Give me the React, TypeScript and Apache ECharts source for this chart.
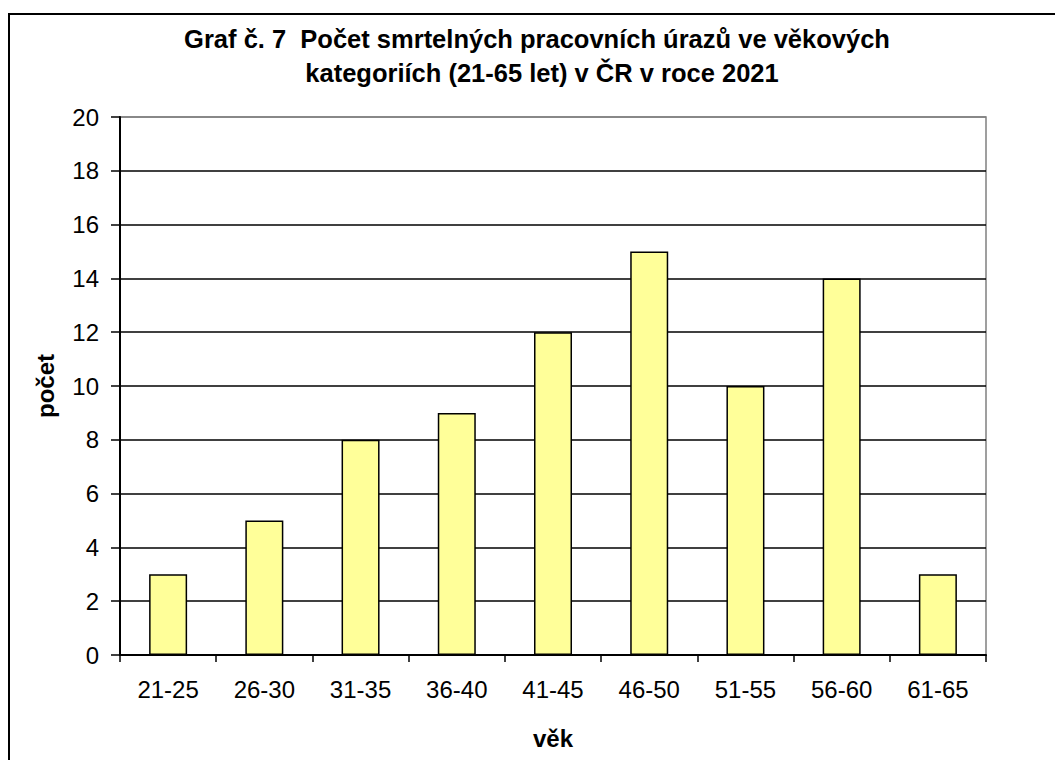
import React, { useEffect, useRef } from "react";
import * as echarts from "echarts";

const categories = ["21-25", "26-30", "31-35", "36-40", "41-45", "46-50", "51-55", "56-60", "61-65"];
const values = [3, 5, 8, 9, 12, 15, 10, 14, 3];
const titleLines = [
  "Graf č. 7  Počet smrtelných pracovních úrazů ve věkových",
  "kategoriích (21-65 let) v ČR v roce 2021",
];
const yAxisName = "počet";
const xAxisName = "věk";

const FONT = "'Liberation Sans', Arial, sans-serif";

export default function App() {
  const ref = useRef<HTMLDivElement>(null);
  useEffect(() => {
    if (!ref.current) return;
    const chart = echarts.init(ref.current, undefined, { renderer: "svg" });
    const splitColors = Array.from({ length: 11 }, (_, i) => (i === 10 ? "#808080" : "#000000"));
    chart.setOption({
      animation: false,
      backgroundColor: "#ffffff",
      textStyle: { fontFamily: FONT },
      graphic: [
        {
          type: "rect",
          shape: { x: 9, y: 14, width: 1200, height: 900 },
          style: { fill: "none", stroke: "#000", lineWidth: 2 },
          z: 100,
        },
        {
          type: "text",
          x: 537,
          y: 39,
          style: {
            text: titleLines[0],
            font: `bold 25.5px ${FONT}`,
            fill: "#000",
            textAlign: "center",
            textVerticalAlign: "middle",
          },
        },
        {
          type: "text",
          x: 542,
          y: 73,
          style: {
            text: titleLines[1],
            font: `bold 25.5px ${FONT}`,
            fill: "#000",
            textAlign: "center",
            textVerticalAlign: "middle",
          },
        },
      ],
      grid: {
        left: 120,
        right: 69,
        top: 117,
        bottom: 105,
        show: true,
        borderColor: "#808080",
        borderWidth: 1.5,
        backgroundColor: "#ffffff",
      },
      xAxis: {
        type: "category",
        data: categories,
        boundaryGap: true,
        name: xAxisName,
        nameLocation: "middle",
        nameGap: 71,
        nameTextStyle: { fontSize: 24, fontWeight: "bold", color: "#000", fontFamily: FONT },
        axisLine: { lineStyle: { color: "#000", width: 2 } },
        axisTick: { show: true, alignWithLabel: false, length: 7, lineStyle: { color: "#000", width: 1.5 } },
        axisLabel: { fontSize: 24, color: "#000", margin: 22, fontFamily: FONT },
      },
      yAxis: {
        type: "value",
        min: 0,
        max: 20,
        interval: 2,
        name: yAxisName,
        nameLocation: "middle",
        nameGap: 63,
        nameRotate: 90,
        nameTextStyle: { fontSize: 24, fontWeight: "bold", color: "#000", fontFamily: FONT },
        axisLine: { show: true, lineStyle: { color: "#000", width: 2 } },
        axisTick: { show: true, length: 9, lineStyle: { color: "#000", width: 1.5 } },
        axisLabel: { fontSize: 24, color: "#000", margin: 21, fontFamily: FONT },
        splitLine: { show: true, lineStyle: { color: splitColors, width: 1.5 } },
      },
      series: [
        {
          type: "bar",
          data: values,
          barWidth: 38,
          itemStyle: { color: "#FFFF99", borderColor: "#000", borderWidth: 1.5 },
        },
      ],
    });
    return () => chart.dispose();
  }, []);
  return (
    <div
      ref={ref}
      style={{ position: "fixed", left: 0, top: 0, width: 1055, height: 760 }}
    />
  );
}
